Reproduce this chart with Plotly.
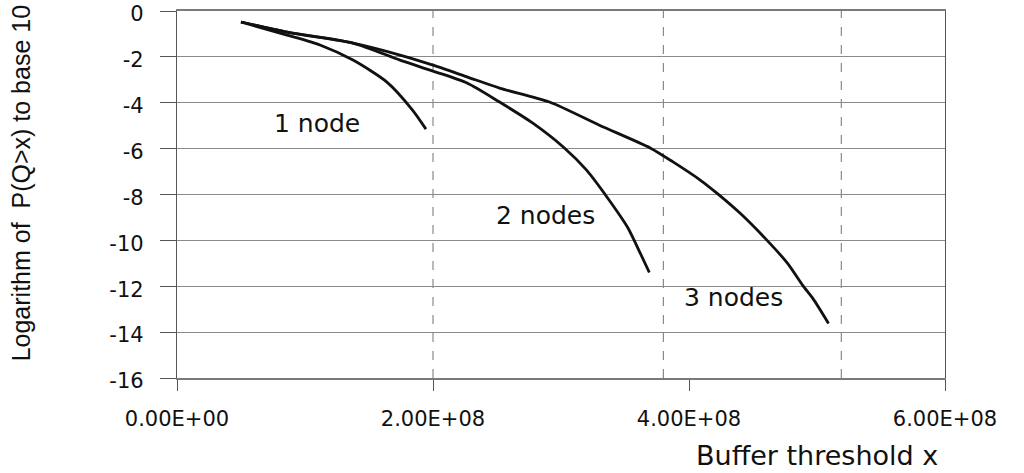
import plotly.graph_objects as go

# ---- data ----
x_1node = [5.0e7, 8.6e7, 1.117e8, 1.375e8, 1.64e8, 1.84e8, 1.945e8]
y_1node = [-0.48, -1.05, -1.48, -2.14, -3.1, -4.32, -5.15]

x_2nodes = [5.0e7, 8.6e7, 1.375e8, 1.742e8, 2.0e8, 2.266e8, 2.52e8, 2.78e8,
            3.02e8, 3.2e8, 3.36e8, 3.52e8, 3.62e8, 3.69e8]
y_2nodes = [-0.48, -0.92, -1.4, -2.14, -2.62, -3.14, -3.97, -4.89,
            -5.94, -6.94, -8.12, -9.43, -10.57, -11.4]

x_3nodes = [5.0e7, 8.6e7, 1.375e8, 1.742e8, 2.0e8, 2.27e8, 2.52e8, 2.91e8,
            3.3e8, 3.7e8, 3.875e8, 4.09e8, 4.22e8, 4.4e8, 4.61e8, 4.77e8,
            4.89e8, 4.97e8, 5.09e8]
y_3nodes = [-0.48, -0.92, -1.4, -1.92, -2.36, -2.88, -3.36, -3.97,
            -4.98, -5.98, -6.58, -7.38, -7.95, -8.82, -10.0, -11.0,
            -11.97, -12.55, -13.62]

series_names = ["1 node", "2 nodes", "3 nodes"]

x_tick_vals = [0, 2e8, 4e8, 6e8]
x_tick_labels = ["0.00E+00", "2.00E+08", "4.00E+08", "6.00E+08"]
y_tick_vals = [0, -2, -4, -6, -8, -10, -12, -14, -16]
y_tick_labels = ["0", "-2", "-4", "-6", "-8", "-10", "-12", "-14", "-16"]

# vertical dashed grid lines as seen in the reference
v_grid_x = [2.0e8, 3.8e8, 5.19e8]

# curve label anchors (data coords)
label_x = [1.094e8, 2.875e8, 4.35e8]
label_y = [-4.89, -8.9, -12.49]

fig = go.Figure()
for xs, ys, name in [(x_1node, y_1node, series_names[0]),
                     (x_2nodes, y_2nodes, series_names[1]),
                     (x_3nodes, y_3nodes, series_names[2])]:
    fig.add_trace(go.Scatter(x=xs, y=ys, mode="lines", name=name,
                             line=dict(color="#111111", width=2.8,
                                       shape="spline", smoothing=0.7),
                             showlegend=False))

for vx in v_grid_x:
    fig.add_shape(type="line", xref="x", yref="paper", x0=vx, x1=vx, y0=0, y1=1,
                  line=dict(color="#8a8a8a", width=1.2, dash="dash"), layer="below")

for t, lx, ly in zip(series_names, label_x, label_y):
    fig.add_annotation(x=lx, y=ly, text=t, showarrow=False,
                       font=dict(family="DejaVu Sans", size=25, color="#111111"),
                       xanchor="center", yanchor="middle")

fig.add_annotation(xref="paper", yref="paper", x=0.993, y=-0.21, text="Buffer threshold x",
                   showarrow=False, xanchor="right", yanchor="middle",
                   font=dict(family="DejaVu Sans", size=27, color="#111111"))
fig.add_annotation(xref="paper", yref="paper", x=-0.202, y=0.53,
                   text="Logarithm of  P(Q>x) to base 10", textangle=-90,
                   showarrow=False, xanchor="center", yanchor="middle",
                   font=dict(family="Liberation Sans", size=25, color="#111111"))

fig.update_layout(
    width=1024, height=473,
    margin=dict(l=177, r=79, t=11, b=95, autoexpand=False),
    paper_bgcolor="white", plot_bgcolor="white",
    xaxis=dict(range=[0, 6e8], tickvals=x_tick_vals, ticktext=x_tick_labels,
               showgrid=False, zeroline=False, automargin=False,
               showline=True, linecolor="#7a7a7a", linewidth=1.5, mirror=True,
               ticks="outside", ticklen=11, tickcolor="#555555", tickwidth=1,
               ticklabelstandoff=10, ticklabeloverflow="allow",
               tickfont=dict(family="DejaVu Sans", size=21, color="#111111")),
    yaxis=dict(range=[-16, 0], tickvals=y_tick_vals, ticktext=y_tick_labels,
               showgrid=True, gridcolor="#8a8a8a", gridwidth=1.3, zeroline=False,
               automargin=False,
               showline=True, linecolor="#555555", linewidth=1.3, mirror=True,
               ticks="outside", ticklen=16, tickcolor="#555555", tickwidth=1,
               ticklabelstandoff=12, ticklabeloverflow="allow", ticklabelshift=3,
               tickfont=dict(family="DejaVu Sans", size=21, color="#111111")),
)

fig.write_html("out.html", config={"displayModeBar": False},
               post_script="document.body.style.margin='0';"
                           "document.body.style.overflow='hidden';")
